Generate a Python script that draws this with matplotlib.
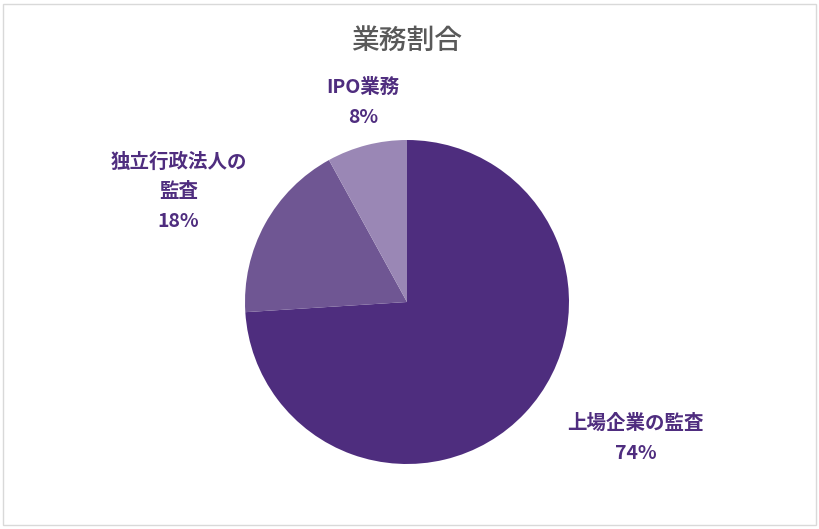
import matplotlib
matplotlib.use('Agg')
from matplotlib import pyplot as plt
from matplotlib.patches import Rectangle

plt.rcParams['font.family'] = ['Noto Sans CJK JP', 'DejaVu Sans']

# data
categories = ['上場企業の監査', '独立行政法人の\n監査', 'IPO業務']
shares = [74, 18, 8]
colors = ['#4e2d7e', '#6f5693', '#9a87b5']

W, H = 819, 529
fig = plt.figure(figsize=(W/100, H/100), dpi=100)

# chart frame
fig.patches.append(Rectangle((3/W, 4/H), 813/W, 521/H, transform=fig.transFigure,
                             fill=False, edgecolor='#d9d9d9', linewidth=1.0))

cx, cy, r = 407, 227, 162   # centre in pixels from bottom
ax = fig.add_axes([(cx-r)/W, (cy-r)/H, 2*r/W, 2*r/H])
wedges, _ = ax.pie(shares, colors=colors, startangle=90, counterclock=False,
                   radius=1.0, wedgeprops=dict(linewidth=0))
ax.set_xlim(-1, 1)
ax.set_ylim(-1, 1)
ax.set_aspect('equal')
ax.axis('off')

# label positions (in radius units, relative to centre)
label_pos = [(1.41, -0.84), (-1.41, 0.68), (-0.27, 1.23)]
for name, val, (lx, ly) in zip(categories, shares, label_pos):
    ax.text(lx, ly, '%s\n%d%%' % (name, val), ha='center', va='center',
            fontsize=14, fontweight='bold', color='#4f2d7f',
            linespacing=1.72, clip_on=False)

fig.text(cx/W, 1-40/H, '業務割合', ha='center', va='center',
         fontsize=20, fontweight='medium', color='#595959')

plt.savefig('out.png', dpi=100)
